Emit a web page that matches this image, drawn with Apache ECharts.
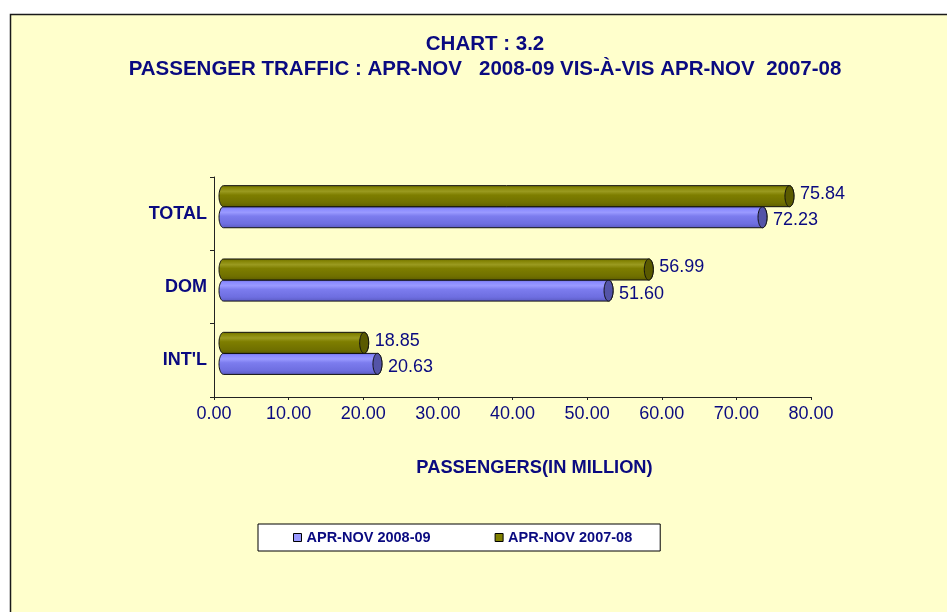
<!DOCTYPE html>
<html>
<head>
<meta charset="utf-8">
<script src="https://cdn.jsdelivr.net/npm/echarts@6/dist/echarts.min.js"></script>
<style>
html,body{margin:0;padding:0;background:#ffffff;}
#chart{width:947px;height:612px;}
</style>
</head>
<body>
<div id="chart"></div>
<script>
const categories = ["INT'L", "DOM", "TOTAL"];
const seriesNames = ["APR-NOV 2008-09", "APR-NOV 2007-08"];
const values2008 = [20.63, 51.60, 72.23];
const values2007 = [18.85, 56.99, 75.84];
const xTicks = [0, 10, 20, 30, 40, 50, 60, 70, 80];

const NAVY = '#0a0a80';
const FONT = '"Liberation Sans", Arial, sans-serif';

const styles = [
  { // 2008-09 blue, lower bar
    legend: '#9999FF',
    body: [[0, '#6a6ad8'], [0.12, '#8a8aff'], [0.28, '#9a9aff'], [0.45, '#7c7cee'], [0.8, '#6e6ee0'], [1, '#5a5ac0']],
    cap: '#5454a8',
    upper: false
  },
  { // 2007-08 olive, upper bar
    legend: '#808000',
    body: [[0, '#6a6a00'], [0.12, '#858505'], [0.28, '#9a9a20'], [0.45, '#7e7e00'], [0.8, '#707000'], [1, '#5c5c00']],
    cap: '#5a5a00',
    upper: true
  }
];

function ellipsePts(cx, cy, rx, ry, a0, a1, n) {
  const pts = [];
  for (let i = 0; i <= n; i++) {
    const t = (a0 + (a1 - a0) * i / n) * Math.PI / 180;
    pts.push([cx + rx * Math.cos(t), cy + ry * Math.sin(t)]);
  }
  return pts;
}

function makeRender(st) {
  return function (params, api) {
    const v = api.value(0);
    const c = api.value(1);
    const p0 = api.coord([0, c]);
    const p1 = api.coord([v, c]);
    const band = api.size([0, 1])[1];
    const h = band * 0.287;
    const shiftY = band * 0.095;
    const dx = 9.5;
    const rx = 4.5;
    const ry = h / 2;
    const mid = p0[1] - shiftY;
    const top = st.upper ? mid - h : mid;
    const bottom = top + h;
    const cy = top + ry;
    const xs = p0[0] + dx;
    const xe = p1[0] + dx;
    let pts = [[xs, top], [xe, top]];
    pts = pts.concat(ellipsePts(xe, cy, rx, ry, -90, 90, 24));
    pts.push([xs, bottom]);
    pts = pts.concat(ellipsePts(xs, cy, rx, ry, 90, 270, 24));
    const capPts = ellipsePts(xe, cy, rx, ry, 0, 360, 48);
    return {
      type: 'group',
      children: [
        {
          type: 'polygon',
          shape: { points: pts },
          style: {
            fill: {
              type: 'linear', x: 0, y: 0, x2: 0, y2: 1,
              colorStops: st.body.map(s => ({ offset: s[0], color: s[1] }))
            },
            stroke: '#111', lineWidth: 1
          }
        },
        {
          type: 'polygon',
          shape: { points: capPts },
          style: { fill: st.cap, stroke: '#111', lineWidth: 1 }
        },
        {
          type: 'text',
          style: {
            text: v.toFixed(2),
            x: xe + rx + 6,
            y: cy + (st.upper ? -2 : 3),
            fill: NAVY,
            font: '18px ' + FONT,
            align: 'left',
            verticalAlign: 'middle'
          }
        }
      ]
    };
  };
}

const chart = echarts.init(document.getElementById('chart'), null, { renderer: 'canvas' });

const option = {
  backgroundColor: '#ffffff',
  animation: false,
  graphic: [
    {
      type: 'rect', z: -10,
      shape: { x: 10.5, y: 14.5, width: 2000, height: 2000 },
      style: { fill: '#FFFFCC', stroke: '#1a1a1a', lineWidth: 1.5 }
    },
    {
      type: 'text', z: 10,
      style: { text: 'CHART : 3.2', x: 485, y: 44, fill: NAVY, font: 'bold 20.5px ' + FONT, align: 'center', verticalAlign: 'middle' }
    },
    {
      type: 'text', z: 10,
      style: { text: 'PASSENGER TRAFFIC : APR-NOV   2008-09 VIS-À-VIS APR-NOV  2007-08', x: 485, y: 69, fill: NAVY, font: 'bold 20.5px ' + FONT, align: 'center', verticalAlign: 'middle' }
    },
    {
      type: 'text', z: 10,
      style: { text: 'PASSENGERS(IN MILLION)', x: 534.5, y: 468, fill: NAVY, font: 'bold 18.3px ' + FONT, align: 'center', verticalAlign: 'middle' }
    }
  ],
  legend: {
    data: seriesNames,
    left: 258,
    top: 524,
    orient: 'horizontal',
    backgroundColor: '#ffffff',
    borderColor: '#000000',
    borderWidth: 1,
    borderRadius: 0,
    padding: [6, 28, 6, 35],
    itemWidth: 8,
    itemHeight: 8,
    itemGap: 64,
    icon: 'rect',
    itemStyle: { borderColor: '#000', borderWidth: 1 },
    textStyle: { color: NAVY, fontWeight: 'bold', fontSize: 14.5, fontFamily: FONT }
  },
  grid: { left: 214, right: 136, top: 177, bottom: 215, containLabel: false },
  xAxis: {
    type: 'value',
    min: xTicks[0],
    max: xTicks[xTicks.length - 1],
    interval: xTicks[1] - xTicks[0],
    splitLine: { show: false },
    axisLine: { show: true, lineStyle: { color: '#222', width: 1 } },
    axisTick: { show: true, length: 3, lineStyle: { color: '#222' } },
    axisLabel: { color: NAVY, fontSize: 18, fontFamily: FONT, margin: 8, formatter: v => v.toFixed(2) }
  },
  yAxis: {
    type: 'category',
    data: categories,
    axisLine: { show: true, lineStyle: { color: '#222', width: 1 } },
    axisTick: { show: true, length: 4, lineStyle: { color: '#222' } },
    axisLabel: { color: NAVY, fontSize: 18, fontWeight: 'bold', fontFamily: FONT, margin: 7 },
    splitLine: { show: false }
  },
  series: [
    {
      name: seriesNames[0],
      type: 'custom',
      itemStyle: { color: styles[0].legend },
      encode: { x: 0, y: 1 },
      renderItem: makeRender(styles[0]),
      data: values2008.map((v, i) => [v, i]),
      z: 3
    },
    {
      name: seriesNames[1],
      type: 'custom',
      itemStyle: { color: styles[1].legend },
      encode: { x: 0, y: 1 },
      renderItem: makeRender(styles[1]),
      data: values2007.map((v, i) => [v, i]),
      z: 3
    }
  ]
};
chart.setOption(option);
</script>
</body>
</html>
